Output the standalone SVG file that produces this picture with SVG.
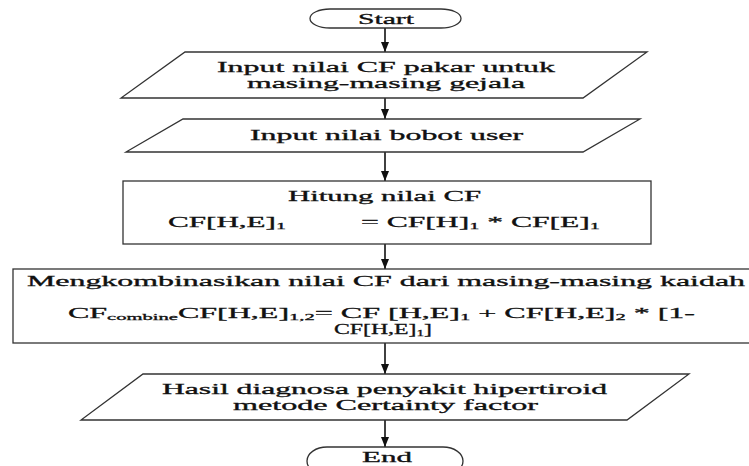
<svg xmlns="http://www.w3.org/2000/svg" width="749" height="466" viewBox="0 0 749 466">
<defs>
<marker id="ah" markerWidth="10" markerHeight="8" refX="10" refY="4" orient="auto" markerUnits="userSpaceOnUse">
<path d="M0,0 L10,4 L0,8 Z" fill="#111"/>
</marker>
<style>
.sh{fill:#fff;stroke:#333;stroke-width:1.3}
.t{font-family:"Liberation Serif","Times New Roman",serif;font-size:14px;font-weight:normal;fill:#111;stroke:#111;stroke-width:0.3}
.c{stroke:#111;stroke-width:1.6;fill:none;marker-end:url(#ah)}
.s{font-size:9px}
</style>
</defs>
<rect width="749" height="466" fill="#fff"/>
<g id="connectors">
<line class="c" x1="385" y1="28" x2="385" y2="52"/>
<line class="c" x1="385" y1="98" x2="385" y2="119"/>
<line class="c" x1="385" y1="152" x2="385" y2="181"/>
<line class="c" x1="385" y1="244" x2="385" y2="269"/>
<line class="c" x1="385" y1="343" x2="385" y2="374"/>
<line class="c" x1="385" y1="420" x2="385" y2="447"/>
</g>
<g id="start">
<rect class="sh" x="310" y="9" width="151" height="19" rx="20" ry="9.5"/>
<text class="t" x="358" y="24" textLength="56" lengthAdjust="spacingAndGlyphs">Start</text>
</g>
<g id="input-cf">
<polygon class="sh" points="185,52 647,52 583,98 121,98"/>
<text class="t" x="217" y="72" textLength="338" lengthAdjust="spacingAndGlyphs">Input nilai CF pakar untuk</text>
<text class="t" x="247" y="88" textLength="278" lengthAdjust="spacingAndGlyphs">masing-masing gejala</text>
</g>
<g id="input-bobot">
<polygon class="sh" points="183,119 640,119 583,152 126,152"/>
<text class="t" x="250" y="140" textLength="273" lengthAdjust="spacingAndGlyphs">Input nilai bobot user</text>
</g>
<g id="hitung">
<rect class="sh" x="123" y="181" width="528" height="63"/>
<text class="t" x="288" y="201" textLength="193" lengthAdjust="spacingAndGlyphs">Hitung nilai CF</text>
<text class="t" x="168" y="227" textLength="118" lengthAdjust="spacingAndGlyphs">CF[H,E]<tspan class="s" dy="2">1</tspan></text>
<text class="t" x="361" y="227" textLength="239" lengthAdjust="spacingAndGlyphs">= CF[H]<tspan class="s" dy="2">1</tspan><tspan dy="-2"> * CF[E]</tspan><tspan class="s" dy="2">1</tspan></text>
</g>
<g id="kombinasi">
<rect class="sh" x="13" y="269" width="760" height="74"/>
<text class="t" x="27" y="286" textLength="718" lengthAdjust="spacingAndGlyphs">Mengkombinasikan nilai CF dari masing-masing kaidah</text>
<text class="t" x="68" y="318" textLength="627" lengthAdjust="spacingAndGlyphs">CF<tspan class="s" dy="2">combine</tspan><tspan dy="-2">CF[H,E]</tspan><tspan class="s" dy="2">1,2</tspan><tspan dy="-2">=  CF [H,E]</tspan><tspan class="s" dy="2">1</tspan><tspan dy="-2"> + CF[H,E]</tspan><tspan class="s" dy="2">2</tspan><tspan dy="-2"> * [1-</tspan></text>
<text class="t" x="334" y="334" textLength="98" lengthAdjust="spacingAndGlyphs">CF[H,E]<tspan class="s" dy="2">1</tspan><tspan dy="-2">]</tspan></text>
</g>
<g id="hasil">
<polygon class="sh" points="143,374 689,374 627,420 81,420"/>
<text class="t" x="162" y="394" textLength="445" lengthAdjust="spacingAndGlyphs">Hasil diagnosa penyakit hipertiroid</text>
<text class="t" x="233" y="410" textLength="305" lengthAdjust="spacingAndGlyphs">metode Certainty factor</text>
</g>
<g id="end">
<rect class="sh" x="307" y="447" width="156" height="28" rx="20" ry="14"/>
<text class="t" x="362" y="462" textLength="50" lengthAdjust="spacingAndGlyphs">End</text>
</g>
</svg>
